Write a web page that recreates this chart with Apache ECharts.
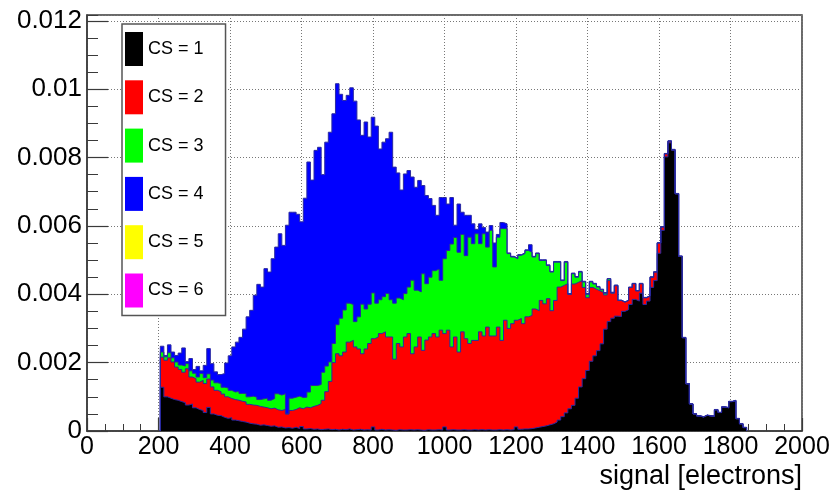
<!DOCTYPE html>
<html>
<head>
<meta charset="utf-8">
<script src="https://cdn.jsdelivr.net/npm/echarts/dist/echarts.min.js"></script>
<style>
html,body{margin:0;padding:0;background:#ffffff;}
#chart{width:835px;height:491px;}
</style>
</head>
<body>
<div id="chart"></div>
<script>
// Histogram binning (electrons): first bin left edge and bin width
const BIN_START = 205;
const BIN_WIDTH = 10;

// Legend / series names
const csNames = ['CS = 1', 'CS = 2', 'CS = 3', 'CS = 4', 'CS = 5', 'CS = 6'];

// Stacked heights (THStack style): top of the stack after adding CS = 1 .. n
const stackCS1 = [
0.00128,0.00100,0.00096,0.00092,0.00090,0.00086,0.00083,0.00076,0.00079,0.00068,
0.00063,0.00060,0.00054,0.00069,0.00050,0.00046,0.00045,0.00040,0.00037,0.00039,
0.00032,0.00030,0.00028,0.00026,0.00023,0.00021,0.00020,0.00017,0.00018,0.00016,
0.00014,0.00015,0.00011,0.00012,0.00009,0.00010,0.00008,0.00011,0.00007,0.00013,
0.00006,0.00007,0.00005,0.00006,0.00004,0.00005,0.00006,0.00004,0.00005,0.00003,
0.00005,0.00004,0.00006,0.00003,0.00004,0.00005,0.00003,0.00004,0.00003,0.00012,
0.00003,0.00005,0.00003,0.00004,0.00003,0.00002,0.00004,0.00003,0.00003,0.00004,
0.00003,0.00004,0.00003,0.00002,0.00004,0.00003,0.00003,0.00004,0.00003,0.00012,
0.00003,0.00004,0.00003,0.00003,0.00004,0.00003,0.00003,0.00004,0.00003,0.00004,
0.00003,0.00004,0.00003,0.00003,0.00004,0.00003,0.00004,0.00003,0.00004,0.00012,
0.00005,0.00006,0.00006,0.00007,0.00009,0.00011,0.00013,0.00015,0.00018,0.00021,
0.00026,0.00032,0.00042,0.00053,0.00065,0.00075,0.00096,0.00129,0.00153,0.00177,
0.00204,0.00220,0.00235,0.00255,0.00298,0.00320,0.00330,0.00336,0.00335,0.00350,
0.00355,0.00370,0.00385,0.00380,0.00403,0.00370,0.00380,0.00420,0.00440,0.00520,
0.00587,0.00802,0.00843,0.00821,0.00694,0.00511,0.00273,0.00138,0.00079,0.00050,
0.00044,0.00041,0.00046,0.00044,0.00043,0.00062,0.00054,0.00070,0.00068,0.00086,
0.00089,0.00036,0.00021,0.00010
];
const stackCS2 = [
0.00216,0.00207,0.00214,0.00202,0.00187,0.00180,0.00172,0.00182,0.00158,0.00153,
0.00143,0.00148,0.00139,0.00152,0.00129,0.00119,0.00115,0.00108,0.00100,0.00095,
0.00092,0.00090,0.00087,0.00085,0.00078,0.00076,0.00075,0.00072,0.00070,0.00068,
0.00065,0.00067,0.00062,0.00060,0.00063,0.00050,0.00060,0.00063,0.00068,0.00065,
0.00070,0.00068,0.00072,0.00075,0.00080,0.00090,0.00115,0.00145,0.00200,0.00226,
0.00220,0.00231,0.00260,0.00265,0.00246,0.00240,0.00226,0.00240,0.00256,0.00270,
0.00275,0.00285,0.00290,0.00275,0.00275,0.00210,0.00256,0.00246,0.00275,0.00285,
0.00226,0.00246,0.00275,0.00236,0.00266,0.00275,0.00285,0.00275,0.00295,0.00285,
0.00295,0.00246,0.00275,0.00231,0.00290,0.00270,0.00256,0.00265,0.00265,0.00290,
0.00278,0.00304,0.00278,0.00278,0.00304,0.00265,0.00324,0.00300,0.00314,0.00324,
0.00329,0.00314,0.00334,0.00338,0.00357,0.00352,0.00382,0.00372,0.00387,0.00352,
0.00382,0.00421,0.00426,0.00431,0.00400,0.00430,0.00435,0.00440,0.00420,0.00390,
0.00420,0.00415,0.00410,0.00405,0.00398,0.00440,0.00403,0.00425,0.00382,0.00377,
0.00382,0.00420,0.00431,0.00410,0.00431,0.00390,0.00395,0.00450,0.00465,0.00550,
0.00597,0.00811,0.00848,0.00823,0.00694,0.00511,0.00273,0.00138,0.00079,0.00050,
0.00044,0.00041,0.00046,0.00044,0.00043,0.00062,0.00054,0.00070,0.00068,0.00086,
0.00089,0.00036,0.00021,0.00010
];
const stackCS3 = [
0.00231,0.00217,0.00229,0.00214,0.00202,0.00193,0.00190,0.00197,0.00176,0.00169,
0.00158,0.00168,0.00156,0.00167,0.00149,0.00141,0.00139,0.00128,0.00126,0.00119,
0.00114,0.00116,0.00110,0.00110,0.00100,0.00102,0.00099,0.00092,0.00094,0.00096,
0.00090,0.00095,0.00109,0.00105,0.00109,0.00050,0.00096,0.00099,0.00102,0.00098,
0.00099,0.00114,0.00133,0.00133,0.00136,0.00172,0.00190,0.00202,0.00256,0.00311,
0.00330,0.00354,0.00374,0.00370,0.00320,0.00334,0.00371,0.00357,0.00371,0.00404,
0.00374,0.00384,0.00393,0.00402,0.00384,0.00374,0.00389,0.00384,0.00402,0.00421,
0.00441,0.00412,0.00407,0.00460,0.00431,0.00450,0.00469,0.00474,0.00441,0.00504,
0.00528,0.00547,0.00566,0.00523,0.00575,0.00513,0.00567,0.00548,0.00577,0.00548,
0.00577,0.00538,0.00587,0.00480,0.00567,0.00592,0.00592,0.00519,0.00509,0.00504,
0.00514,0.00519,0.00528,0.00523,0.00509,0.00519,0.00499,0.00499,0.00484,0.00465,
0.00494,0.00494,0.00440,0.00494,0.00400,0.00460,0.00450,0.00465,0.00436,0.00400,
0.00436,0.00430,0.00421,0.00413,0.00403,0.00445,0.00405,0.00426,0.00382,0.00377,
0.00382,0.00420,0.00431,0.00410,0.00431,0.00390,0.00395,0.00450,0.00465,0.00550,
0.00597,0.00811,0.00848,0.00823,0.00694,0.00511,0.00273,0.00138,0.00079,0.00050,
0.00044,0.00041,0.00046,0.00044,0.00043,0.00062,0.00054,0.00070,0.00068,0.00086,
0.00089,0.00036,0.00021,0.00010
];
const stackCS4 = [
0.00248,0.00221,0.00252,0.00231,0.00221,0.00228,0.00243,0.00203,0.00212,0.00180,
0.00189,0.00176,0.00192,0.00241,0.00197,0.00173,0.00165,0.00168,0.00199,0.00220,
0.00246,0.00260,0.00274,0.00298,0.00334,0.00353,0.00397,0.00429,0.00421,0.00475,
0.00465,0.00504,0.00538,0.00577,0.00543,0.00602,0.00640,0.00640,0.00634,0.00612,
0.00681,0.00787,0.00734,0.00821,0.00830,0.00750,0.00845,0.00874,0.00928,0.01016,
0.00985,0.00967,0.00982,0.01004,0.00965,0.00910,0.00865,0.00904,0.00860,0.00918,
0.00892,0.00825,0.00845,0.00855,0.00874,0.00772,0.00755,0.00705,0.00752,0.00762,
0.00743,0.00713,0.00733,0.00718,0.00689,0.00680,0.00660,0.00631,0.00683,0.00683,
0.00664,0.00683,0.00602,0.00664,0.00640,0.00631,0.00631,0.00606,0.00590,0.00606,
0.00595,0.00582,0.00601,0.00550,0.00575,0.00610,0.00606,0.00521,0.00511,0.00506,
0.00516,0.00521,0.00530,0.00545,0.00511,0.00521,0.00501,0.00501,0.00486,0.00467,
0.00496,0.00496,0.00442,0.00496,0.00402,0.00462,0.00452,0.00467,0.00438,0.00402,
0.00438,0.00432,0.00423,0.00415,0.00405,0.00446,0.00406,0.00427,0.00383,0.00378,
0.00383,0.00421,0.00432,0.00411,0.00432,0.00391,0.00396,0.00451,0.00466,0.00551,
0.00598,0.00812,0.00849,0.00824,0.00695,0.00512,0.00274,0.00139,0.00080,0.00051,
0.00045,0.00042,0.00047,0.00045,0.00044,0.00063,0.00055,0.00071,0.00069,0.00087,
0.00090,0.00037,0.00022,0.00011
];
// CS = 5 and CS = 6 add nothing visible on top of the stack
const stackCS5 = [];
const stackCS6 = [];

const csColors = ['#000000', '#ff0000', '#00ff00', '#0000ff', '#ffff00', '#ff00ff'];
const FONT = '"Liberation Sans", Arial, Helvetica, sans-serif';
const OUTLINE = '#2a2aa0';
const AXIS = '#3a3a3a';

function histPoints(tops) {
  const pts = [];
  if (!tops.length) return pts;
  pts.push([BIN_START, 0]);
  for (let i = 0; i < tops.length; i++) pts.push([BIN_START + i * BIN_WIDTH, tops[i]]);
  pts.push([BIN_START + tops.length * BIN_WIDTH, 0]);
  return pts;
}

// Draw the largest stack first, smaller ones on top (like THStack)
const drawOrder = [
  { idx: 5, tops: stackCS6 },
  { idx: 4, tops: stackCS5 },
  { idx: 3, tops: stackCS4 },
  { idx: 2, tops: stackCS3 },
  { idx: 1, tops: stackCS2 },
  { idx: 0, tops: stackCS1 }
];

const series = drawOrder.map(function (d) {
  return {
    type: 'line',
    name: csNames[d.idx],
    data: histPoints(d.tops),
    step: 'end',
    symbol: 'none',
    showSymbol: false,
    color: csColors[d.idx],
    itemStyle: { color: csColors[d.idx] },
    lineStyle: { color: OUTLINE, width: 1 },
    areaStyle: { color: csColors[d.idx], opacity: 1 },
    silent: true,
    emphasis: { disabled: true }
  };
});

function yFmt(v) {
  const r = Math.round(v / 0.002);
  if (Math.abs(v - r * 0.002) > 1e-9) return '';
  return String(+(r * 0.002).toFixed(3));
}

const option = {
  animation: false,
  backgroundColor: '#ffffff',
  grid: {
    left: 87, right: 33, top: 15, bottom: 60,
    show: true, borderColor: AXIS, borderWidth: 1.5,
    containLabel: false, outerBoundsMode: 'none'
  },
  legend: {
    orient: 'vertical',
    left: 122, top: 24,
    data: csNames,
    icon: 'rect',
    itemWidth: 18, itemHeight: 34, itemGap: 14.3,
    padding: [8, 22, 8, 3],
    backgroundColor: '#ffffff',
    borderColor: '#555555', borderWidth: 1.5,
    textStyle: { fontFamily: FONT, fontSize: 18, color: '#000000' },
    selectedMode: false,
    z: 10
  },
  xAxis: {
    type: 'value', min: 0, max: 2000, interval: 200,
    name: 'signal [electrons]',
    nameLocation: 'end', nameGap: 0,
    nameMoveOverlap: false,
    nameTextStyle: { fontFamily: FONT, fontSize: 27, color: '#000000', align: 'right', verticalAlign: 'top', padding: [32, 0, 0, 0] },
    axisLine: { show: true, onZero: false, lineStyle: { color: AXIS, width: 1.5 } },
    axisTick: { show: true, inside: true, length: 13, lineStyle: { color: AXIS, width: 1.2 } },
    minorTick: { show: true, splitNumber: 4, length: 7, lineStyle: { color: AXIS, width: 1 } },
    axisLabel: { fontFamily: FONT, fontSize: 25, color: '#000000', margin: 4, formatter: function (v) { return String(v); } },
    splitLine: { show: true, lineStyle: { color: '#777777', width: 1, type: [1, 2] } }
  },
  yAxis: [
    {
      type: 'value', min: 0, max: 0.01217, interval: 0.002, position: 'left',
      axisLine: { show: true, onZero: false, lineStyle: { color: AXIS, width: 1.5 } },
      axisTick: { show: true, inside: true, length: 21, lineStyle: { color: AXIS, width: 1.2 } },
      axisLabel: { fontFamily: FONT, fontSize: 26, color: '#000000', margin: 5, showMaxLabel: false, formatter: yFmt },
      splitLine: { show: true, lineStyle: { color: '#777777', width: 1, type: [1, 2] } }
    },
    {
      type: 'value', min: 0, max: 0.01217, interval: 0.0005, position: 'left',
      axisLine: { show: false },
      axisTick: { show: true, inside: true, length: 11, lineStyle: { color: AXIS, width: 1 } },
      axisLabel: { show: false },
      splitLine: { show: false }
    }
  ],
  series: series
};

const chart = echarts.init(document.getElementById('chart'), null, { renderer: 'canvas' });
chart.setOption(option);
</script>
</body>
</html>
